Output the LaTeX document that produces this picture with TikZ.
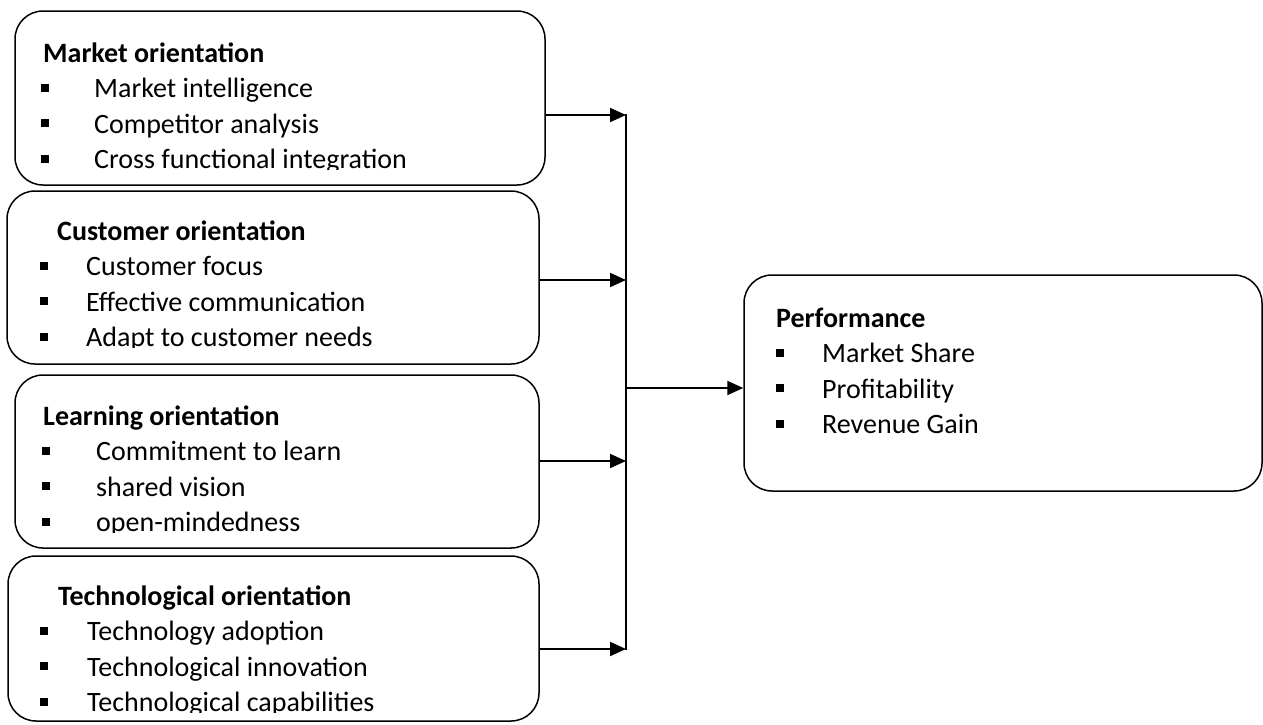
\documentclass[tikz,border=0pt]{standalone}
\usepackage{fontspec}
\setmainfont{Carlito}
\usetikzlibrary{arrows.meta, positioning}

\newcommand{\sqbul}[1][50pt]{\makebox[#1][l]{\rule[6pt]{8pt}{8pt}}}

\begin{document}
\begin{tikzpicture}[x=1pt, y=-1pt,
    orbox/.style={draw, line width=1.5pt, rounded corners=28pt, inner sep=0pt},
    items/.style={anchor=base west, align=left, inner sep=0pt, font=\fontsize{28}{35.5}\selectfont},
    feed/.style={line width=2pt, -{Triangle[length=16pt,width=14pt]}}]
\useasboundingbox (0,0) rectangle (1263,724);

% the four orientations
\node[orbox, minimum width=530pt, minimum height=174pt] (market) at (280,98) {};
\node[orbox, minimum width=532pt, minimum height=173pt] (customer) at (273,277.5) {};
\node[orbox, minimum width=524pt, minimum height=173pt] (learning) at (277,461.5) {};
\node[orbox, minimum width=531pt, minimum height=165pt] (techno) at (273.5,638.5) {};
% outcome
\node[orbox, minimum width=518pt, minimum height=216pt] (perf) at (1003,383) {};

% texts sit on the baseline of their last line
\begin{scope}
    \clip (0,0) rectangle (600,169.5);
    \node[items] (marketTxt) at (41,168.5) {\hspace*{2pt}\textbf{Market orientation}\\
        \sqbul[53pt]Market intelligence\\
        \sqbul[53pt]Competitor analysis\\
        \sqbul[53pt]Cross functional integration};
\end{scope}
\begin{scope}
    \clip (0,190) rectangle (600,347.5);
    \node[items] (customerTxt) at (40,346.5) {\hspace*{17pt}\textbf{Customer orientation}\\
        \sqbul[46pt]Customer focus\\
        \sqbul[46pt]Effective communication\\
        \sqbul[46pt]Adapt to customer needs};
\end{scope}
\begin{scope}
    \clip (0,374) rectangle (600,532.5);
    \node[items] (learningTxt) at (42,531.5) {\hspace*{1pt}\textbf{Learning orientation}\\
        \sqbul[54pt]Commitment to learn\\
        \sqbul[54pt]shared vision\\
        \sqbul[54pt]open-mindedness};
\end{scope}
\begin{scope}
    \clip (0,555) rectangle (600,712.5);
    \node[items] (technoTxt) at (40,711.5) {\hspace*{18pt}\textbf{Technological orientation}\\
        \sqbul[47pt]Technology adoption\\
        \sqbul[47pt]Technological innovation\\
        \sqbul[47pt]Technological capabilities};
\end{scope}
\node[items] (perfTxt) at (776,433.5) {\textbf{Performance}\\
    \sqbul[46pt]Market Share\\
    \sqbul[46pt]Profitability\\
    \sqbul[46pt]Revenue Gain};

% connectors
\coordinate (bus1) at (626,115);
\coordinate (bus2) at (626,280);
\coordinate (bus3) at (626,461);
\coordinate (bus4) at (626,649);
\coordinate (bus0) at (626,388);
\draw[feed] (market.east |- bus1) -- (bus1);
\draw[feed] (customer.east |- bus2) -- (bus2);
\draw[feed] (learning.east |- bus3) -- (bus3);
\draw[feed] (techno.east |- bus4) -- (bus4);
\draw[line width=2pt] ([yshift=1pt]bus1) -- ([yshift=-1pt]bus4);
\draw[feed] (bus0) -- (perf.west |- bus0);
\end{tikzpicture}
\end{document}
